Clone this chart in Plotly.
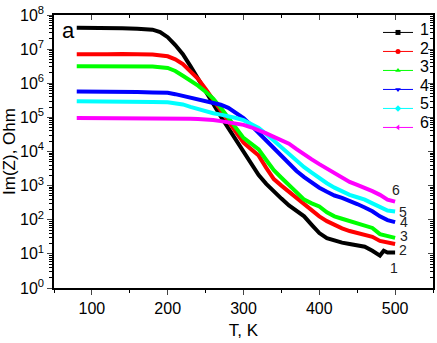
import plotly.graph_objects as go

# ---------------- data ----------------
T1 = [80, 100, 120, 140, 160, 180, 190, 200, 210, 220, 230, 240, 250, 260, 270, 280, 290, 300,
      310, 320, 330, 340, 350, 360, 370, 380, 390, 400, 410, 420, 430, 440, 450, 460, 470, 480, 485, 490, 500]
Z1_log = [7.63, 7.63, 7.62, 7.61, 7.60, 7.57, 7.50, 7.35, 7.12, 6.85, 6.50, 6.15, 5.78, 5.40, 5.03, 4.69,
          4.35, 4.03, 3.66, 3.31, 3.05, 2.82, 2.62, 2.42, 2.27, 2.10, 1.85, 1.61, 1.46, 1.38, 1.33, 1.29,
          1.26, 1.21, 1.09, 0.95, 1.09, 1.04, 1.04]

T2 = [80, 100, 120, 140, 160, 180, 200, 210, 220, 230, 240, 250, 260, 270, 280, 290, 300, 310, 320,
      330, 340, 350, 360, 370, 380, 390, 400, 410, 420, 430, 440, 450, 460, 470, 480, 490, 500]
Z2_log = [6.85, 6.84, 6.85, 6.86, 6.85, 6.84, 6.79, 6.70, 6.56, 6.36, 6.13, 5.83, 5.50, 5.19, 4.89,
          4.57, 4.26, 4.07, 3.88, 3.52, 3.19, 3.00, 2.82, 2.62, 2.45, 2.26, 2.10, 1.96, 1.84, 1.75,
          1.67, 1.62, 1.58, 1.50, 1.38, 1.32, 1.29]

T3 = T2
Z3_log = [6.50, 6.50, 6.50, 6.51, 6.50, 6.49, 6.45, 6.36, 6.22, 6.08, 5.93, 5.75, 5.55, 5.28, 4.98,
          4.69, 4.40, 4.23, 4.06, 3.75, 3.45, 3.23, 3.02, 2.80, 2.59, 2.48, 2.39, 2.22, 2.10, 2.03,
          1.96, 1.88, 1.81, 1.76, 1.58, 1.53, 1.47]

T4 = T2
Z4_log = [5.76, 5.76, 5.75, 5.75, 5.74, 5.73, 5.72, 5.68, 5.63, 5.59, 5.55, 5.50, 5.44, 5.37, 5.28,
          5.14, 4.98, 4.77, 4.55, 4.32, 4.09, 3.86, 3.63, 3.43, 3.25, 3.09, 2.94, 2.82, 2.71, 2.64,
          2.56, 2.46, 2.36, 2.25, 2.10, 1.99, 1.93]

T5 = T2
Z5_log = [5.47, 5.47, 5.46, 5.46, 5.46, 5.45, 5.44, 5.42, 5.38, 5.31, 5.24, 5.18, 5.12, 5.08, 5.04,
          4.98, 4.92, 4.81, 4.69, 4.51, 4.32, 4.12, 3.91, 3.72, 3.54, 3.38, 3.22, 3.07, 2.94, 2.83,
          2.73, 2.66, 2.59, 2.48, 2.36, 2.27, 2.24]

T6 = T2
Z6_log = [4.98, 4.98, 4.98, 4.98, 4.98, 4.98, 4.98, 4.98, 4.98, 4.96, 4.95, 4.94, 4.92, 4.89, 4.86,
          4.82, 4.78, 4.71, 4.63, 4.53, 4.43, 4.33, 4.23, 4.07, 3.91, 3.77, 3.63, 3.50, 3.37, 3.24,
          3.11, 3.02, 2.94, 2.84, 2.73, 2.59, 2.53]

series_names = ["1", "2", "3", "4", "5", "6"]
series_T = [T1, T2, T3, T4, T5, T6]
series_log = [Z1_log, Z2_log, Z3_log, Z4_log, Z5_log, Z6_log]
colors = ["#000000", "#ff0000", "#00ff00", "#0000ff", "#00ffff", "#ff00ff"]
symbols = ["square", "circle", "triangle-up", "triangle-down", "diamond", "triangle-left"]

label_T = [499, 510, 512, 512, 510, 501]
label_log = [0.60, 1.12, 1.53, 1.93, 2.24, 2.88]

x_ticks = [100, 200, 300, 400, 500]
y_tickvals = [10 ** e for e in range(0, 9)]
y_ticktext = ["10<sup>%d</sup>" % e for e in range(0, 9)]
y_minor = [k * 10 ** e for e in range(0, 8) for k in range(2, 10)]

FONT = "Liberation Sans, Arial, sans-serif"

fig = go.Figure()

for name, T, zl, c in zip(series_names, series_T, series_log, colors):
    fig.add_trace(go.Scatter(x=T, y=[10 ** v for v in zl], mode="lines",
                             line=dict(color=c, width=4), showlegend=False,
                             hoverinfo="skip"))

# legend samples (text drawn as annotations next to them)
for name, c, s in zip(series_names, colors, symbols):
    fig.add_trace(go.Scatter(x=[None], y=[None], mode="lines+markers", name="",
                             line=dict(color=c, width=1), marker=dict(symbol=s, size=5, color=c)))

# mirror axes (inward ticks on top and right)
fig.add_trace(go.Scatter(x=[None], y=[None], xaxis="x2", yaxis="y2", showlegend=False,
                         hoverinfo="skip"))

# legend labels
for i, name in enumerate(series_names):
    ypix = 25 + 18.8 * i
    fig.add_annotation(x=(418 - 54) / 379, y=(288 - ypix) / 278, xref="paper", yref="paper",
                       text=name, showarrow=False, xanchor="left", yanchor="middle",
                       font=dict(size=16, color="black", family=FONT))

# curve end labels
for name, tx, ly in zip(series_names, label_T, label_log):
    fig.add_annotation(x=tx, y=ly, xref="x", yref="y", text=name, showarrow=False,
                       font=dict(size=14, color="#222", family=FONT))

fig.add_annotation(x=0.015, y=0.995, xref="paper", yref="paper", text="a", showarrow=False,
                   xanchor="left", yanchor="top", font=dict(size=22, color="black", family=FONT))

fig.update_layout(
    width=437, height=343,
    margin=dict(l=54, r=4, t=10, b=55),
    paper_bgcolor="white", plot_bgcolor="white",
    font=dict(family=FONT, size=16, color="black"),
    showlegend=True,
    legend=dict(x=(378 - 54) / 379, y=(288 - 13) / 278, xanchor="left", yanchor="top",
                bgcolor="rgba(0,0,0,0)", font=dict(size=10, family=FONT), tracegroupgap=0,
                itemwidth=30),
    xaxis=dict(range=[50, 550], tickvals=x_ticks, ticks="outside", ticklen=5, tickwidth=1,
               showline=True, linecolor="black", linewidth=1.5, showgrid=False, zeroline=False,
               minor=dict(dtick=50, tick0=50, ticks="outside", ticklen=3, tickcolor="black"),
               title=dict(text="T, K", font=dict(size=17), standoff=8),
               tickfont=dict(size=16), ticklabeloverflow="allow"),
    yaxis=dict(type="log", range=[0, 8], tickvals=y_tickvals, ticktext=y_ticktext,
               ticks="outside", ticklen=5, tickwidth=1, showline=True, linecolor="black",
               linewidth=1.5, showgrid=False, zeroline=False,
               minor=dict(tickvals=y_minor, ticks="outside", ticklen=3, tickcolor="black"),
               title=dict(text="Im(Z), Ohm", font=dict(size=17), standoff=4),
               tickfont=dict(size=16), ticklabeloverflow="allow"),
    xaxis2=dict(overlaying="x", side="top", range=[50, 550], tickvals=x_ticks, ticks="inside",
                ticklen=5, showticklabels=False, showline=True, linecolor="black", linewidth=1.5,
                showgrid=False, zeroline=False,
                minor=dict(dtick=50, tick0=50, ticks="inside", ticklen=3, tickcolor="black")),
    yaxis2=dict(overlaying="y", side="right", type="log", range=[0, 8], tickvals=y_tickvals,
                ticks="inside", ticklen=5, showticklabels=False, showline=True, linecolor="black",
                linewidth=1.5, showgrid=False, zeroline=False,
                minor=dict(tickvals=y_minor, ticks="inside", ticklen=3, tickcolor="black")),
)

fig.write_html("out.html", config={"displayModeBar": False},
               post_script="document.body.style.margin='0';document.body.style.overflow='hidden';")
